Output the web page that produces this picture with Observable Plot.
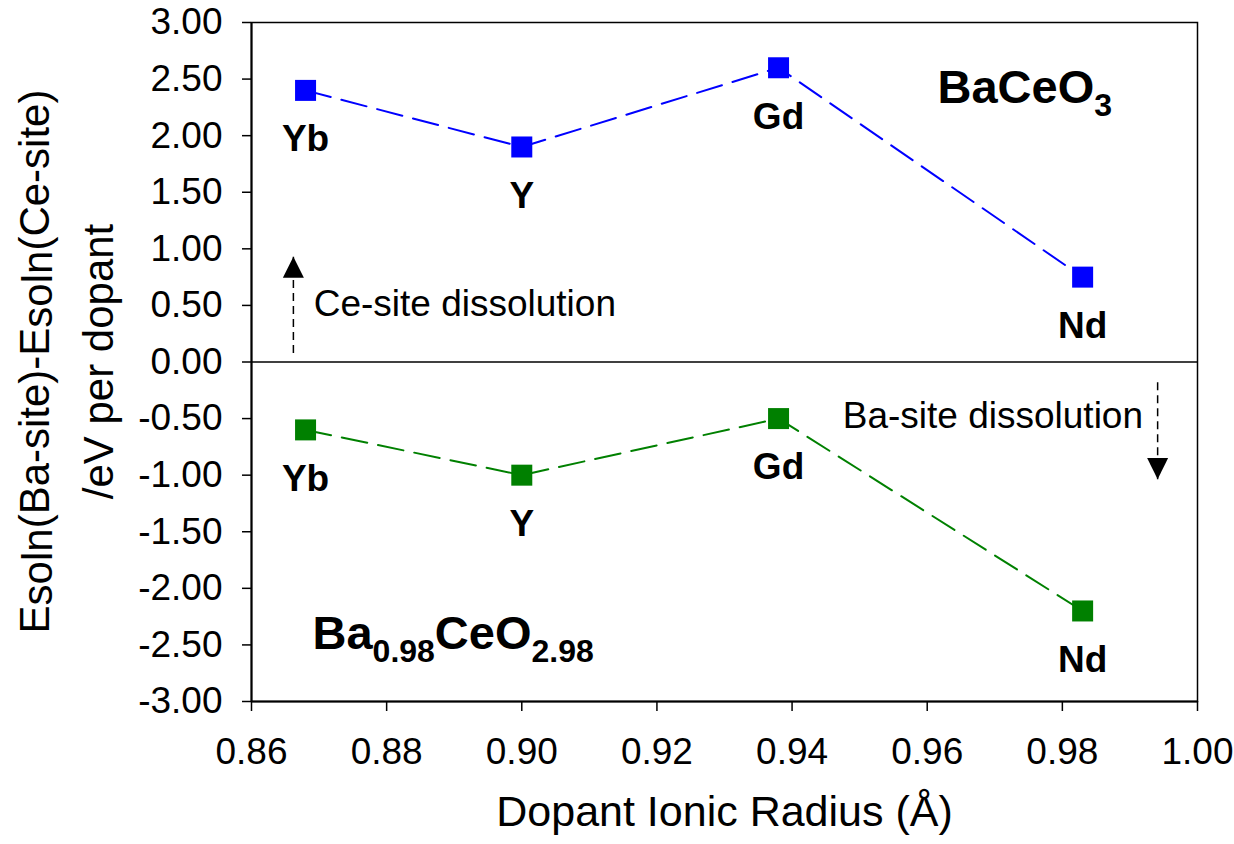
<!DOCTYPE html>
<html>
<head>
<meta charset="utf-8">
<script src="https://cdn.jsdelivr.net/npm/d3@7"></script>
<script src="https://cdn.jsdelivr.net/npm/@observablehq/plot@0.6"></script>
<style>
  html, body { margin: 0; padding: 0; background: #fff; }
  #chart svg { display: block; }
</style>
</head>
<body>
<div id="chart"></div>
<script>
// ---------- data ----------
const dopants = ["Yb", "Y", "Gd", "Nd"];
const ionicRadius = [0.868, 0.900, 0.938, 0.983];
const eBaCeO3 = [2.40, 1.90, 2.60, 0.75];
const eBa098 = [-0.60, -1.00, -0.50, -2.20];
const seriesNames = ["BaCeO3", "Ba0.98CeO2.98"];
const seriesColors = ["#0000FF", "#008000"];
const xTicks = [0.86, 0.88, 0.90, 0.92, 0.94, 0.96, 0.98, 1.00];
const yTicks = [-3, -2.5, -2, -1.5, -1, -0.5, 0, 0.5, 1, 1.5, 2, 2.5, 3];
const xTitle = "Dopant Ionic Radius (Å)";

// annotation anchors (data coordinates)
const upArrows = [{x: 0.8662, from: 0.08, to: 0.93}];
const downArrows = [{x: 0.9941, from: -0.18, to: -1.035}];
const notes = [
  {x: 0.8692, y: 0.51, text: "Ce-site dissolution"},
  {x: 0.9475, y: -0.48, text: "Ba-site dissolution"}
];
const formulas = [
  {x: 0.9616, y: 2.282, parts: [["BaCeO", false], ["3", true]]},
  {x: 0.8691, y: -2.537, parts: [["Ba", false], ["0.98", true], ["CeO", false], ["2.98", true]]}
];

// ---------- table ----------
const rows = [];
seriesNames.forEach((s, si) => {
  const vals = si === 0 ? eBaCeO3 : eBa098;
  dopants.forEach((d, i) => rows.push({series: s, dopant: d, r: ionicRadius[i], e: vals[i]}));
});

// custom arrow-head symbols with the tip at the origin
const headUp = {draw(ctx, size) { const s = Math.sqrt(size); ctx.moveTo(0, 0); ctx.lineTo(-s / 2, s); ctx.lineTo(s / 2, s); ctx.closePath(); }};
const headDown = {draw(ctx, size) { const s = Math.sqrt(size); ctx.moveTo(0, 0); ctx.lineTo(-s / 2, -s); ctx.lineTo(s / 2, -s); ctx.closePath(); }};

const FONT = "'Liberation Sans', Arial, Helvetica, sans-serif";
const fmt = d => d.toFixed(2);

const chart = Plot.plot({
  width: 1234,
  height: 844,
  marginLeft: 251,
  marginRight: 37,
  marginTop: 22,
  marginBottom: 143,
  style: {fontFamily: FONT, background: "#fff", color: "#000", overflow: "visible"},
  x: {domain: [0.86, 1.00]},
  y: {domain: [-3, 3]},
  color: {domain: seriesNames, range: seriesColors},
  marks: [
    Plot.frame({stroke: "#000", strokeWidth: 1.5}),
    Plot.ruleY([0], {stroke: "#000", strokeWidth: 1.5}),
    Plot.axisY({ticks: yTicks, tickFormat: fmt, tickSize: 9, tickPadding: 20, fontSize: 37, strokeWidth: 1.5, label: null}),
    Plot.axisX({ticks: xTicks, tickFormat: fmt, tickSize: 10, tickPadding: 26, fontSize: 37, strokeWidth: 1.5, label: null}),
    Plot.ruleX([0.86], {stroke: "#000", strokeWidth: 2}),
    Plot.ruleY([-3], {stroke: "#000", strokeWidth: 2}),
    Plot.line(rows, {x: "r", y: "e", z: "series", stroke: "series", strokeWidth: 2, strokeDasharray: "26,11"}),
    Plot.dot(rows, {x: "r", y: "e", fill: "series", symbol: "square", r: 11.85}),
    Plot.text(rows, {x: "r", y: "e", text: "dopant", dy: 49, fontWeight: "bold", fontSize: 37, fill: "#000"}),
    Plot.link(upArrows, {x1: "x", x2: "x", y1: "from", y2: "to", stroke: "#000", strokeWidth: 1.5, strokeDasharray: "8,5"}),
    Plot.link(downArrows, {x1: "x", x2: "x", y1: "from", y2: "to", stroke: "#000", strokeWidth: 1.5, strokeDasharray: "8,5"}),
    Plot.dot(upArrows, {x: "x", y: "to", symbol: headUp, r: 11.85, fill: "#000"}),
    Plot.dot(downArrows, {x: "x", y: "to", symbol: headDown, r: 11.85, fill: "#000"}),
    Plot.text(notes, {x: "x", y: "y", text: "text", textAnchor: "start", fontSize: 37, fill: "#000"}),
    Plot.text([xTitle], {frameAnchor: "bottom", dy: 124, fontSize: 43, fill: "#000"})
  ]
});

document.getElementById("chart").appendChild(chart);

// ---------- rich text (subscripts) positioned through the Plot scales ----------
const svg = d3.select(chart);
const sx = chart.scale("x"), sy = chart.scale("y");

formulas.forEach(f => {
  const t = svg.append("text")
    .attr("x", sx.apply(f.x))
    .attr("y", sy.apply(f.y))
    .attr("text-anchor", "start")
    .attr("font-family", FONT)
    .attr("font-weight", "bold")
    .attr("font-size", 47)
    .attr("fill", "#000");
  let lowered = false;
  f.parts.forEach(([str, sub]) => {
    const ts = t.append("tspan").text(str);
    if (sub && !lowered) { ts.attr("dy", 13).attr("font-size", 32); lowered = true; }
    else if (sub) { ts.attr("font-size", 32); }
    else if (!sub && lowered) { ts.attr("dy", -13); lowered = false; }
  });
});

// y-axis title (two lines, rotated)
const yMid = (sy.apply(3) + sy.apply(-3)) / 2;
const g = svg.append("g").attr("transform", `translate(49,${yMid}) rotate(-90)`)
  .attr("font-family", FONT).attr("font-size", 42).attr("fill", "#000");
const l1 = g.append("text").attr("text-anchor", "middle").attr("y", 0);
l1.append("tspan").text("E");
l1.append("tspan").attr("dy", 3).text("soln");
l1.append("tspan").attr("dy", -3).text("(Ba-site)-E");
l1.append("tspan").attr("dy", 3).text("soln");
l1.append("tspan").attr("dy", -3).text("(Ce-site)");
g.append("text").attr("text-anchor", "middle").attr("y", 64).text("/eV per dopant");
</script>
</body>
</html>
